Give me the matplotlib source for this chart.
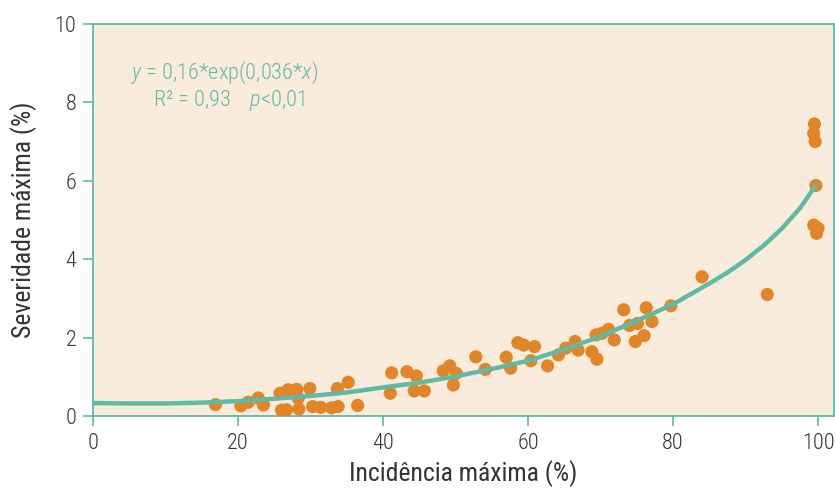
import matplotlib
matplotlib.use('Agg')
import matplotlib.pyplot as plt
from matplotlib import font_manager

# ── Data ─────────────────────────────────────────────────────────
incidencia = [16.9, 20.4, 21.4, 22.8, 23.5, 25.8, 26.0, 26.7, 26.9, 28.1,
              28.3, 28.4, 29.9, 30.3, 31.4, 32.9, 33.8, 33.7, 35.2, 36.5,
              41.0, 41.2, 43.3, 44.6, 44.3, 45.7, 48.3, 49.2, 50.1, 49.7,
              52.8, 54.1, 57.0, 57.6, 58.6, 59.4, 60.9, 60.4, 62.7, 64.2,
              65.2, 66.5, 66.9, 68.8, 69.5, 69.4, 70.2, 71.1, 71.9, 73.2,
              74.0, 75.1, 74.8, 76.0, 77.1, 76.3, 79.7, 84.0, 93.0, 99.5,
              99.4, 99.6, 99.7, 99.4, 100.0, 99.8]
severidade = [0.29, 0.26, 0.35, 0.46, 0.28, 0.58, 0.15, 0.16, 0.67, 0.68,
              0.45, 0.18, 0.70, 0.24, 0.22, 0.21, 0.24, 0.70, 0.86, 0.27,
              0.58, 1.10, 1.13, 1.02, 0.64, 0.64, 1.15, 1.28, 1.09, 0.79,
              1.51, 1.19, 1.50, 1.22, 1.87, 1.81, 1.77, 1.41, 1.28, 1.56,
              1.73, 1.90, 1.68, 1.64, 1.45, 2.07, 2.11, 2.21, 1.94, 2.71,
              2.31, 2.36, 1.90, 2.05, 2.41, 2.76, 2.81, 3.55, 3.10, 7.45,
              7.21, 7.00, 5.88, 4.87, 4.79, 4.66]

# fitted trend line
curva_x = [0, 5, 10, 15, 20, 25, 30, 35, 40, 45, 50, 55, 60, 65, 70, 75,
           80, 85, 87.5, 90, 92.5, 95, 97.5, 99.7]
curva_y = [0.33, 0.32, 0.32, 0.34, 0.38, 0.44, 0.51, 0.60, 0.73, 0.85,
           1.01, 1.20, 1.41, 1.70, 2.03, 2.43, 2.85, 3.38, 3.66, 3.98,
           4.35, 4.78, 5.30, 5.89]

x_ticks = [0, 20, 40, 60, 80, 100]
y_ticks = [0, 2, 4, 6, 8, 10]

# ── Style ────────────────────────────────────────────────────────
available = {f.name for f in font_manager.fontManager.ttflist}
family = next((f for f in ['Roboto Condensed', 'Liberation Sans Narrow',
                           'DejaVu Sans Condensed', 'DejaVu Sans']
               if f in available), 'DejaVu Sans')

plt.rcParams.update({
    'font.family': family,
    'font.weight': 'light',
    'mathtext.fontset': 'custom',
    'mathtext.rm': family + ':light',
    'mathtext.it': family + ':italic:light',
})

COL_BG = '#faecdd'
COL_TEAL = '#5fb9a5'
COL_DOT = '#e08528'
COL_TEXT = '#333333'

fig = plt.figure(figsize=(8.35, 4.91), dpi=100)
ax = fig.add_axes([93 / 835, 1 - 416 / 491, (834 - 93) / 835, (416 - 24) / 491])
ax.set_facecolor(COL_BG)

ax.scatter(incidencia, severidade, s=90, color=COL_DOT, edgecolors='none',
           zorder=3)
ax.plot(curva_x, curva_y, '-', color=COL_TEAL, lw=3.2, zorder=4,
        solid_capstyle='round', solid_joinstyle='round')

ax.text(0.177, 0.875, r'$y$ = 0,16*exp(0,036*$x$)', transform=ax.transAxes,
        fontsize=16, color=COL_TEAL, ha='center', va='center')
ax.text(0.184, 0.806, r'R² = 0,93    $p$<0,01', transform=ax.transAxes,
        fontsize=16, color=COL_TEAL, ha='center', va='center')

ax.set_xlim(0, 102.2)
ax.set_ylim(0, 10)
ax.set_xticks(x_ticks)
ax.set_yticks(y_ticks)

for sp in ax.spines.values():
    sp.set_color(COL_TEAL)
    sp.set_linewidth(1.3)

ax.tick_params(axis='both', direction='out', length=7, width=1.2,
               color=COL_TEAL, labelcolor=COL_TEXT, labelsize=16, pad=5)

ax.set_xlabel('Incidência máxima (%)', fontsize=18.5, color=COL_TEXT,
              labelpad=5)
ax.set_ylabel('Severidade máxima (%)', fontsize=18.5, color=COL_TEXT,
              labelpad=13)

fig.savefig('out.png', dpi=100, facecolor='white')
